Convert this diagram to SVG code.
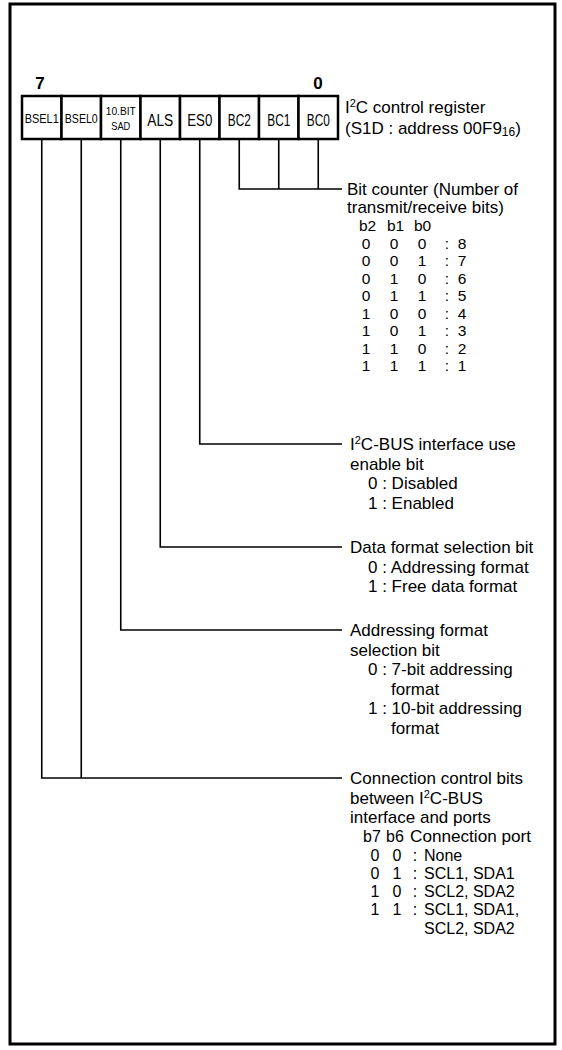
<svg xmlns="http://www.w3.org/2000/svg" width="562" height="1050" viewBox="0 0 562 1050">
<style>
.t{font-family:"Liberation Sans",Arial,Helvetica,sans-serif;font-size:17px;fill:#000}
.s{font-size:15.5px}
.c{font-size:16px}
.lb{font-size:17px}
.sm{font-size:12.5px}
.xs{font-size:11px}
.b{font-family:"Liberation Sans",Arial,Helvetica,sans-serif;fill:#000;font-weight:bold;font-size:17px}
.box{fill:#fff;stroke:#000;stroke-width:2.5}
.ln{stroke:#000;stroke-width:1.6;fill:none}
.sup{font-size:11px}
.sub{font-size:12px}
</style>
<rect x="10" y="4" width="545" height="1040" fill="#fff" stroke="#000" stroke-width="3"/>

<g id="register">
  <text class="b" x="40" y="89" text-anchor="middle">7</text>
  <text class="b" x="318" y="89" text-anchor="middle">0</text>
  <g id="bit-bsel1"><rect class="box" x="22" y="96" width="39.5" height="43"/><text class="t sm" x="41.75" y="123" text-anchor="middle" textLength="34" lengthAdjust="spacingAndGlyphs">BSEL1</text></g>
  <g id="bit-bsel0"><rect class="box" x="61.5" y="96" width="39.5" height="43"/><text class="t sm" x="81.25" y="123" text-anchor="middle" textLength="33" lengthAdjust="spacingAndGlyphs">BSEL0</text></g>
  <g id="bit-10bitsad"><rect class="box" x="101" y="96" width="39.5" height="43"/><text class="t xs" x="120.75" y="115" text-anchor="middle" textLength="30" lengthAdjust="spacingAndGlyphs">10.BIT</text><text class="t xs" x="120.75" y="130" text-anchor="middle" textLength="19" lengthAdjust="spacingAndGlyphs">SAD</text></g>
  <g id="bit-als"><rect class="box" x="140.5" y="96" width="39.5" height="43"/><text class="t lb" x="160.25" y="126" text-anchor="middle" textLength="26" lengthAdjust="spacingAndGlyphs">ALS</text></g>
  <g id="bit-es0"><rect class="box" x="180" y="96" width="39.5" height="43"/><text class="t lb" x="199.75" y="126" text-anchor="middle" textLength="25" lengthAdjust="spacingAndGlyphs">ES0</text></g>
  <g id="bit-bc2"><rect class="box" x="219.5" y="96" width="39.5" height="43"/><text class="t lb" x="239.25" y="126" text-anchor="middle" textLength="23" lengthAdjust="spacingAndGlyphs">BC2</text></g>
  <g id="bit-bc1"><rect class="box" x="259" y="96" width="39.5" height="43"/><text class="t lb" x="278.75" y="126" text-anchor="middle" textLength="23" lengthAdjust="spacingAndGlyphs">BC1</text></g>
  <g id="bit-bc0"><rect class="box" x="298.5" y="96" width="39.5" height="43"/><text class="t lb" x="318.25" y="126" text-anchor="middle" textLength="23" lengthAdjust="spacingAndGlyphs">BC0</text></g>
  <text class="t" x="345" y="113">I<tspan class="sup" dy="-6">2</tspan><tspan dy="6">C control register</tspan></text>
  <text class="t" x="345" y="134">(S1D : address 00F9<tspan class="sub" dy="2">16</tspan><tspan dy="-2">)</tspan></text>
</g>

<g id="connectors">
  <polyline class="ln" points="239.25,139 239.25,189 342,189"/>
  <line class="ln" x1="278.75" y1="139" x2="278.75" y2="189"/>
  <line class="ln" x1="318.25" y1="139" x2="318.25" y2="189"/>
  <polyline class="ln" points="199.75,139 199.75,444 342,444"/>
  <polyline class="ln" points="160.25,139 160.25,547 342,547"/>
  <polyline class="ln" points="120.75,139 120.75,630 342,630"/>
  <polyline class="ln" points="41.75,139 41.75,778 342,778"/>
  <line class="ln" x1="81.25" y1="139" x2="81.25" y2="778"/>
</g>

<g id="bit-counter">
  <text class="t" x="347" y="195">Bit counter (Number of</text>
  <text class="t" x="347" y="213">transmit/receive bits)</text>
  <text class="t s" x="359" y="231">b2</text><text class="t s" x="387" y="231">b1</text><text class="t s" x="414" y="231">b0</text>
  <g class="t s" text-anchor="middle">
    <text x="366" y="248.5">0</text><text x="394" y="248.5">0</text><text x="422" y="248.5">0</text><text x="447" y="248.5">:</text><text x="462" y="248.5">8</text>
    <text x="366" y="266">0</text><text x="394" y="266">0</text><text x="422" y="266">1</text><text x="447" y="266">:</text><text x="462" y="266">7</text>
    <text x="366" y="283.5">0</text><text x="394" y="283.5">1</text><text x="422" y="283.5">0</text><text x="447" y="283.5">:</text><text x="462" y="283.5">6</text>
    <text x="366" y="301">0</text><text x="394" y="301">1</text><text x="422" y="301">1</text><text x="447" y="301">:</text><text x="462" y="301">5</text>
    <text x="366" y="318.5">1</text><text x="394" y="318.5">0</text><text x="422" y="318.5">0</text><text x="447" y="318.5">:</text><text x="462" y="318.5">4</text>
    <text x="366" y="336">1</text><text x="394" y="336">0</text><text x="422" y="336">1</text><text x="447" y="336">:</text><text x="462" y="336">3</text>
    <text x="366" y="353.5">1</text><text x="394" y="353.5">1</text><text x="422" y="353.5">0</text><text x="447" y="353.5">:</text><text x="462" y="353.5">2</text>
    <text x="366" y="371">1</text><text x="394" y="371">1</text><text x="422" y="371">1</text><text x="447" y="371">:</text><text x="462" y="371">1</text>
  </g>
</g>

<g id="es0-desc">
  <text class="t" x="350" y="450">I<tspan class="sup" dy="-6">2</tspan><tspan dy="6">C-BUS interface use</tspan></text>
  <text class="t" x="350" y="469.5">enable bit</text>
  <text class="t" x="368" y="489">0 : Disabled</text>
  <text class="t" x="368" y="508.5">1 : Enabled</text>
</g>

<g id="als-desc">
  <text class="t" x="350" y="553">Data format selection bit</text>
  <text class="t" x="368" y="572.5">0 : Addressing format</text>
  <text class="t" x="368" y="592">1 : Free data format</text>
</g>

<g id="sad-desc">
  <text class="t" x="350" y="636">Addressing format</text>
  <text class="t" x="350" y="655.5">selection bit</text>
  <text class="t" x="368" y="675">0 : 7-bit addressing</text>
  <text class="t" x="391" y="694.5">format</text>
  <text class="t" x="368" y="714">1 : 10-bit addressing</text>
  <text class="t" x="391" y="733.5">format</text>
</g>

<g id="bsel-desc">
  <text class="t" x="350" y="784">Connection control bits</text>
  <text class="t" x="350" y="803.5">between I<tspan class="sup" dy="-6">2</tspan><tspan dy="6">C-BUS</tspan></text>
  <text class="t" x="350" y="823">interface and ports</text>
  <text class="t c" x="363" y="842">b7</text><text class="t c" x="386" y="842">b6</text>
  <text class="t c" x="410" y="842" textLength="121" lengthAdjust="spacingAndGlyphs">Connection port</text>
  <g class="t c" text-anchor="middle">
    <text x="375" y="861">0</text><text x="397" y="861">0</text><text x="415" y="861">:</text>
    <text x="375" y="879">0</text><text x="397" y="879">1</text><text x="415" y="879">:</text>
    <text x="375" y="897">1</text><text x="397" y="897">0</text><text x="415" y="897">:</text>
    <text x="375" y="915">1</text><text x="397" y="915">1</text><text x="415" y="915">:</text>
  </g>
  <text class="t c" x="424" y="861">None</text>
  <text class="t c" x="424" y="879">SCL1, SDA1</text>
  <text class="t c" x="424" y="897">SCL2, SDA2</text>
  <text class="t c" x="424" y="915">SCL1, SDA1,</text>
  <text class="t c" x="424" y="934">SCL2, SDA2</text>
</g>
</svg>
